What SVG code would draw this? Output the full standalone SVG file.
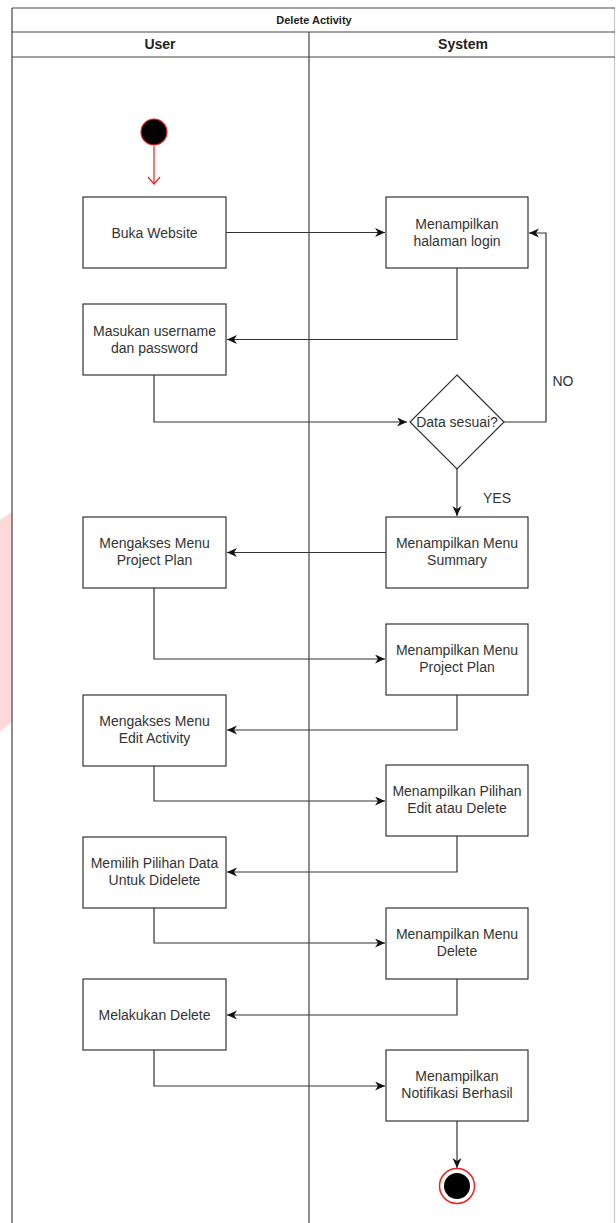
<svg xmlns="http://www.w3.org/2000/svg" width="616" height="1223" viewBox="0 0 616 1223">
<style>
.box{fill:#fff;stroke:#333;stroke-width:1.2}
.lbl{font-family:"Liberation Sans",Arial,sans-serif;font-size:14px;fill:#333;text-anchor:middle}
.hdr{font-family:"Liberation Sans",Arial,sans-serif;font-size:14px;font-weight:bold;fill:#222;text-anchor:middle}
.conn{fill:none;stroke:#333;stroke-width:1.2}
.lane{stroke:#444;stroke-width:1.2;fill:none}
</style>
<defs>
<marker id="arr" markerUnits="userSpaceOnUse" markerWidth="12" markerHeight="10" refX="10" refY="4.5" orient="auto">
<path d="M0,0 L10,4.5 L0,9 L3,4.5 z" fill="#111"/>
</marker>
<marker id="open" markerUnits="userSpaceOnUse" markerWidth="14" markerHeight="14" refX="8" refY="6.5" orient="auto">
<path d="M1,0.5 L8,6.5 L1,12.5" fill="none" stroke="#e22" stroke-width="1.2"/>
</marker>
</defs>
<rect width="616" height="1223" fill="#fff"/>
<polygon points="0,520 12,512 12,722 0,732" fill="#ffd8da"/>
<g id="pool">
<line x1="12" y1="8" x2="12" y2="1223" class="lane"/>
<line x1="614.5" y1="8" x2="614.5" y2="1223" stroke="#c8c8c8" stroke-width="1.2"/>
<line x1="12" y1="8" x2="615" y2="8" class="lane"/>
<line x1="12" y1="32" x2="615" y2="32" class="lane"/>
<line x1="12" y1="57" x2="615" y2="57" class="lane"/>
<line x1="309" y1="32" x2="309" y2="1223" class="lane"/>
<text x="314" y="23.5" font-family="'Liberation Sans',Arial,sans-serif" font-size="11" font-weight="bold" fill="#222" text-anchor="middle">Delete Activity</text>
<text x="160" y="49" class="hdr">User</text>
<text x="463" y="49" class="hdr">System</text>
</g>
<g id="connectors">
<path d="M154,146 L154,184" fill="none" stroke="#e22" stroke-width="1.2" marker-end="url(#open)"/>
<path class="conn" d="M226,232.5 L385,232.5" marker-end="url(#arr)"/>
<path class="conn" d="M457,268 L457,339.5 L227,339.5" marker-end="url(#arr)"/>
<path class="conn" d="M154,375 L154,422 L407,422" marker-end="url(#arr)"/>
<path class="conn" d="M504,422 L546,422 L546,233 L529,233" marker-end="url(#arr)"/>
<path class="conn" d="M457,469 L457,516" marker-end="url(#arr)"/>
<path class="conn" d="M386,552.5 L227,552.5" marker-end="url(#arr)"/>
<path class="conn" d="M154,588 L154,659 L385,659" marker-end="url(#arr)"/>
<path class="conn" d="M457,695 L457,730 L227,730" marker-end="url(#arr)"/>
<path class="conn" d="M154,766 L154,801 L385,801" marker-end="url(#arr)"/>
<path class="conn" d="M457,836 L457,872 L227,872" marker-end="url(#arr)"/>
<path class="conn" d="M154,908 L154,943 L385,943" marker-end="url(#arr)"/>
<path class="conn" d="M457,979 L457,1015 L227,1015" marker-end="url(#arr)"/>
<path class="conn" d="M154,1050 L154,1086 L385,1086" marker-end="url(#arr)"/>
<path class="conn" d="M457,1121 L457,1168" marker-end="url(#arr)"/>
<text x="563" y="386" class="lbl">NO</text>
<text x="497" y="503" class="lbl">YES</text>
</g>
<g id="start"><circle cx="154" cy="132" r="13" fill="#000" stroke="#e22" stroke-width="1.2"/></g>
<g id="n1"><rect class="box" x="83" y="197" width="143" height="71"/><text class="lbl" x="154.5" y="237.5">Buka Website</text></g>
<g id="n2"><rect class="box" x="386" y="197" width="142" height="71"/><text class="lbl" x="457" y="229">Menampilkan</text><text class="lbl" x="457" y="246">halaman login</text></g>
<g id="n3"><rect class="box" x="83" y="304" width="143" height="71"/><text class="lbl" x="154.5" y="335.5">Masukan username</text><text class="lbl" x="154.5" y="352.5">dan password</text></g>
<g id="d1"><polygon class="box" points="457,375 504,422 457,469 410,422"/><text class="lbl" x="457" y="427">Data sesuai?</text></g>
<g id="n4"><rect class="box" x="386" y="517" width="142" height="71"/><text class="lbl" x="457" y="548">Menampilkan Menu</text><text class="lbl" x="457" y="565">Summary</text></g>
<g id="n5"><rect class="box" x="83" y="517" width="143" height="71"/><text class="lbl" x="154.5" y="548">Mengakses Menu</text><text class="lbl" x="154.5" y="565">Project Plan</text></g>
<g id="n6"><rect class="box" x="386" y="624" width="142" height="71"/><text class="lbl" x="457" y="655">Menampilkan Menu</text><text class="lbl" x="457" y="672">Project Plan</text></g>
<g id="n7"><rect class="box" x="83" y="695" width="143" height="71"/><text class="lbl" x="154.5" y="726">Mengakses Menu</text><text class="lbl" x="154.5" y="743">Edit Activity</text></g>
<g id="n8"><rect class="box" x="386" y="765" width="142" height="71"/><text class="lbl" x="457" y="796">Menampilkan Pilihan</text><text class="lbl" x="457" y="813">Edit atau Delete</text></g>
<g id="n9"><rect class="box" x="83" y="837" width="143" height="71"/><text class="lbl" x="154.5" y="868">Memilih Pilihan Data</text><text class="lbl" x="154.5" y="885">Untuk Didelete</text></g>
<g id="n10"><rect class="box" x="386" y="908" width="142" height="71"/><text class="lbl" x="457" y="939">Menampilkan Menu</text><text class="lbl" x="457" y="956">Delete</text></g>
<g id="n11"><rect class="box" x="83" y="979" width="143" height="71"/><text class="lbl" x="154.5" y="1019.5">Melakukan Delete</text></g>
<g id="n12"><rect class="box" x="386" y="1050" width="142" height="71"/><text class="lbl" x="457" y="1081">Menampilkan</text><text class="lbl" x="457" y="1098">Notifikasi Berhasil</text></g>
<g id="end"><circle cx="457" cy="1186" r="17.5" fill="#fff" stroke="#e22" stroke-width="1.5"/><circle cx="457" cy="1186" r="13" fill="#000"/></g>
</svg>
